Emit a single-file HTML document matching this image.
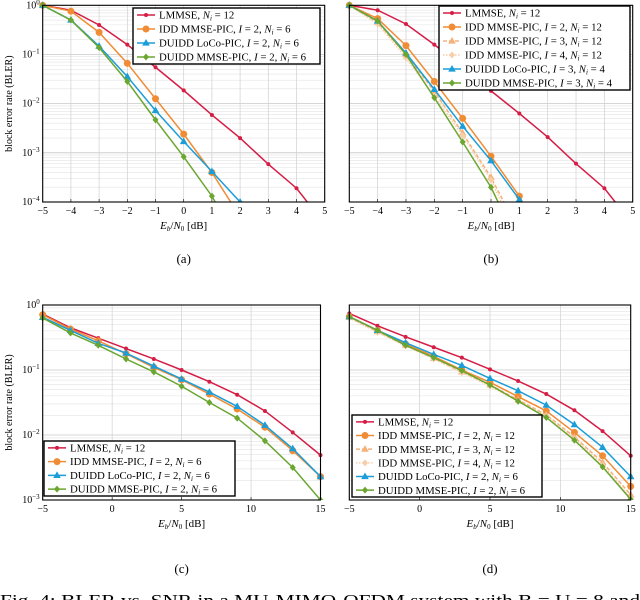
<!DOCTYPE html>
<html><head><meta charset="utf-8"><style>
body{margin:0;background:#fff;width:640px;height:600px;overflow:hidden}
svg{display:block;font-family:"Liberation Serif",serif}
</style></head><body>
<svg id="fig" width="640" height="600" viewBox="0 0 640 600"></svg>
<script>
// ---- data ----
const xA = [-5,-4,-3,-2,-1,0,1,2,3,4,5];
const aLmmse = [0,-0.1,-0.4,-0.8,-1.26,-1.73,-2.23,-2.7,-3.23,-3.72,-4.45];
const aIdd = [0,-0.12,-0.55,-1.18,-1.9,-2.62,-3.4,-4.3];
const aLoco = [0,-0.3,-0.83,-1.45,-2.14,-2.77,-3.38,-4.0];
const aMmse = [0,-0.3,-0.86,-1.55,-2.33,-3.08,-3.88,-4.9];
const bLmmse = [0,-0.1,-0.38,-0.8,-1.25,-1.74,-2.2,-2.68,-3.22,-3.72,-4.45];
const bIdd2 = [0,-0.27,-0.82,-1.55,-2.3,-3.07,-3.88,-5];
const bIdd3 = [0,-0.35,-1.0,-1.75,-2.6,-3.5,-4.6];
const bIdd4 = [0,-0.38,-1.07,-1.85,-2.65,-3.55,-4.8];
const bLoco = [0,-0.32,-0.97,-1.71,-2.46,-3.16,-3.95,-5];
const bMmse = [0,-0.32,-1.0,-1.88,-2.78,-3.7,-4.9];
const xC = [-5,-3,-1,1,3,5,7,9,11,13,15];
const cLmmse = [-0.14,-0.35,-0.51,-0.67,-0.83,-1.0,-1.18,-1.38,-1.63,-1.96,-2.31];
const cIdd = [-0.15,-0.37,-0.55,-0.75,-0.96,-1.15,-1.37,-1.6,-1.88,-2.24,-2.64];
const cLoco = [-0.19,-0.39,-0.59,-0.74,-0.94,-1.14,-1.34,-1.56,-1.85,-2.21,-2.64];
const cMmse = [-0.2,-0.43,-0.62,-0.83,-1.03,-1.25,-1.5,-1.74,-2.09,-2.5,-3.0];
const dLmmse = [-0.13,-0.32,-0.49,-0.65,-0.81,-0.99,-1.17,-1.37,-1.62,-1.94,-2.32];
const dIdd2 = [-0.18,-0.39,-0.6,-0.79,-1.0,-1.19,-1.41,-1.63,-1.96,-2.32,-2.79];
const dIdd3 = [-0.19,-0.41,-0.62,-0.82,-1.03,-1.23,-1.46,-1.69,-2.03,-2.42,-2.92];
const dIdd4 = [-0.2,-0.42,-0.63,-0.83,-1.04,-1.25,-1.48,-1.71,-2.06,-2.46,-2.97];
const dLoco = [-0.18,-0.39,-0.58,-0.76,-0.93,-1.13,-1.32,-1.54,-1.84,-2.19,-2.64];
const dMmse = [-0.18,-0.39,-0.62,-0.81,-1.01,-1.23,-1.48,-1.73,-2.08,-2.49,-2.99];
const xTicksAB = [-5,-4,-3,-2,-1,0,1,2,3,4,5];
const xTicksCD = [-5,0,5,10,15];

const NS="http://www.w3.org/2000/svg";
const svg=document.getElementById('fig');
function el(t,a,p){const e=document.createElementNS(NS,t);for(const k in a)e.setAttribute(k,a[k]);(p||svg).appendChild(e);return e;}
const RED="#d51d45",OR="#f08c35",OR3="#f4b27a",OR4="#f8ceaa",BL="#1b9dd8",GR="#6aa630";
function marker(g,type,x,y,c){
  if(type==='dot')return el('circle',{cx:x,cy:y,r:2,fill:c},g);
  if(type==='circ')return el('circle',{cx:x,cy:y,r:3.5,fill:c},g);
  if(type==='tri')return el('polygon',{points:`${x},${y-4} ${x-3.8},${y+2.6} ${x+3.8},${y+2.6}`,fill:c},g);
  return el('polygon',{points:`${x},${y-3.5} ${x+3},${y} ${x},${y+3.5} ${x-3},${y}`,fill:c},g);
}
function panel(id,L,R,T,B,xmin,xmax,dec,xticks,ylabels,series,xs,legend,cap){
  const g=el('g',{});
  
  
  const sx=v=>L+(v-xmin)/(xmax-xmin)*(R-L);
  const sy=v=>T+(-v)/dec*(B-T);
  for(let d=0;d<dec;d++){for(let m=1;m<=9;m++){const v=-d-1+Math.log10(m);const y=sy(v);
    el('line',{x1:L,x2:R,y1:y,y2:y,stroke:m==1?'#c8c8c8':'#e3e3e3','stroke-width':m==1?0.8:0.6},g);}}
  xticks.forEach(t=>{const x=sx(t);el('line',{x1:x,x2:x,y1:T,y2:B,stroke:'#d0d0d0','stroke-width':0.7},g);
    el('line',{x1:x,x2:x,y1:B,y2:B-3,stroke:'#000','stroke-width':0.6},g);
    const tx=el('text',{x:x,y:B+12,'font-size':10,'text-anchor':'middle'},g);tx.textContent=t<0?'\u2212'+(-t):t;
    });
  if(ylabels){for(let d=0;d<=dec;d++){const t=el('text',{x:L-3,y:sy(-d)+3,'font-size':10,'text-anchor':'end'},g);
      t.innerHTML='10<tspan dy="-4" font-size="7">'+(d==0?'0':'\u2212'+d)+'</tspan>';
      }
    const yl=el('text',{x:0,y:0,'font-size':10,'text-anchor':'middle',transform:`translate(12,${(T+B)/2}) rotate(-90)`},g);
    yl.textContent='block error rate (BLER)';
    }
  const xl=el('text',{x:(L+R)/2,y:B+27,'font-size':11,'text-anchor':'middle'},g);
  xl.innerHTML='<tspan font-style="italic">E</tspan><tspan font-size="7" dy="2" font-style="italic">b</tspan><tspan dy="-2">/</tspan><tspan font-style="italic">N</tspan><tspan font-size="7" dy="2">0</tspan><tspan dy="-2"> [dB]</tspan>';
  
  const cp=el('clipPath',{id:'cp'+id},g);el('rect',{x:L-5,y:T-5,width:R-L+10,height:B-T+5},cp);
  const dg=el('g',{'clip-path':`url(#cp${id})`},g);
  const cp2=el('clipPath',{id:'cl'+id},g);el('rect',{x:L,y:T-5,width:R-L,height:B-T+5},cp2);
  series.forEach(s=>{
    const sg=el('g',{},dg);
    
    const pts=s.v.map((v,i)=>sx(xs[i])+','+sy(v)).join(' ');
    el('polyline',{points:pts,fill:'none',stroke:s.c,'stroke-width':1.5,'stroke-dasharray':s.dash||'','clip-path':`url(#cl${id})`},sg);
    s.v.forEach((v,i)=>{if(v>=-dec-0.02&&xs[i]<=xmax){const m=marker(sg,s.m,sx(xs[i]),sy(v),s.c);
      }});
  });
  el('rect',{x:L,y:T,width:R-L,height:B-T,fill:'none',stroke:'#000','stroke-width':1.1},g);
  const lg=el('g',{},g);
  
  el('rect',{x:legend.x,y:legend.y,width:legend.w,height:legend.h,fill:'#fff',stroke:'#000','stroke-width':1.4},lg);
  const rh=legend.h/series.length;
  series.forEach((s,i)=>{const y=legend.y+rh*(i+0.5);
    const eg=el('g',{},lg);
    
    el('line',{x1:legend.x+4,x2:legend.x+22,y1:y,y2:y,stroke:s.c,'stroke-width':1.5,'stroke-dasharray':s.dash||''},eg);
    marker(eg,s.m,legend.x+13,y,s.c);
    const t=el('text',{x:legend.x+26,y:y+3.6,'font-size':10.8},eg);t.innerHTML=s.label;});
  const c=el('text',{x:(L+R)/2,y:cap,'font-size':13,'text-anchor':'middle'},g);c.textContent='('+id+')';
  
}
const Ni='<tspan font-style="italic">N</tspan><tspan font-size="7" dy="2" font-style="italic">i</tspan><tspan dy="-2"> = </tspan>';
const I='<tspan font-style="italic">I</tspan> = ';
const lab=(a,b)=>a+Ni+b;
panel('a',42.7,324.7,5.3,202,-5,5,4,xTicksAB,true,[
 {name:'lmmse',v:aLmmse,c:RED,m:'dot',label:lab('LMMSE, ','12')},
 {name:'idd',v:aIdd,c:OR,m:'circ',label:lab('IDD MMSE-PIC, '+I+'2, ','6')},
 {name:'loco',v:aLoco,c:BL,m:'tri',label:lab('DUIDD LoCo-PIC, '+I+'2, ','6')},
 {name:'mmse',v:aMmse,c:GR,m:'dia',label:lab('DUIDD MMSE-PIC, '+I+'2, ','6')}],xA,{x:133,y:8,w:187,h:56},263);
panel('b',349.3,632.7,5.3,202,-5,5,4,xTicksAB,false,[
 {name:'lmmse',v:bLmmse,c:RED,m:'dot',label:lab('LMMSE, ','12')},
 {name:'idd2',v:bIdd2,c:OR,m:'circ',label:lab('IDD MMSE-PIC, '+I+'2, ','12')},
 {name:'idd3',v:bIdd3,c:OR3,m:'tri',dash:'4,2',label:lab('IDD MMSE-PIC, '+I+'3, ','12')},
 {name:'idd4',v:bIdd4,c:OR4,m:'dia',dash:'1.5,1.5',label:lab('IDD MMSE-PIC, '+I+'4, ','12')},
 {name:'loco',v:bLoco,c:BL,m:'tri',label:lab('DUIDD LoCo-PIC, '+I+'3, ','4')},
 {name:'mmse',v:bMmse,c:GR,m:'dia',label:lab('DUIDD MMSE-PIC, '+I+'3, ','4')}],xA,{x:439,y:6,w:191,h:84},263);
panel('c',42.7,320.5,305,500,-5,15,3,xTicksCD,true,[
 {name:'lmmse',v:cLmmse,c:RED,m:'dot',label:lab('LMMSE, ','12')},
 {name:'idd',v:cIdd,c:OR,m:'circ',label:lab('IDD MMSE-PIC, '+I+'2, ','6')},
 {name:'loco',v:cLoco,c:BL,m:'tri',label:lab('DUIDD LoCo-PIC, '+I+'2, ','6')},
 {name:'mmse',v:cMmse,c:GR,m:'dia',label:lab('DUIDD MMSE-PIC, '+I+'2, ','6')}],xC,{x:44,y:441,w:191,h:55},573);
panel('d',349.3,630.7,305,500,-5,15,3,xTicksCD,false,[
 {name:'lmmse',v:dLmmse,c:RED,m:'dot',label:lab('LMMSE, ','12')},
 {name:'idd2',v:dIdd2,c:OR,m:'circ',label:lab('IDD MMSE-PIC, '+I+'2, ','12')},
 {name:'idd3',v:dIdd3,c:OR3,m:'tri',dash:'4,2',label:lab('IDD MMSE-PIC, '+I+'3, ','12')},
 {name:'idd4',v:dIdd4,c:OR4,m:'dia',dash:'1.5,1.5',label:lab('IDD MMSE-PIC, '+I+'4, ','12')},
 {name:'loco',v:dLoco,c:BL,m:'tri',label:lab('DUIDD LoCo-PIC, '+I+'2, ','6')},
 {name:'mmse',v:dMmse,c:GR,m:'dia',label:lab('DUIDD MMSE-PIC, '+I+'2, ','6')}],xC,{x:352,y:415,w:190,h:82},573);
const fc=el('text',{x:0,y:606,'font-size':17,textLength:640,lengthAdjust:'spacingAndGlyphs'});
fc.textContent='Fig. 4: BLER vs. SNR in a MU-MIMO-OFDM system with B = U = 8 and';


</script>
</body></html>
